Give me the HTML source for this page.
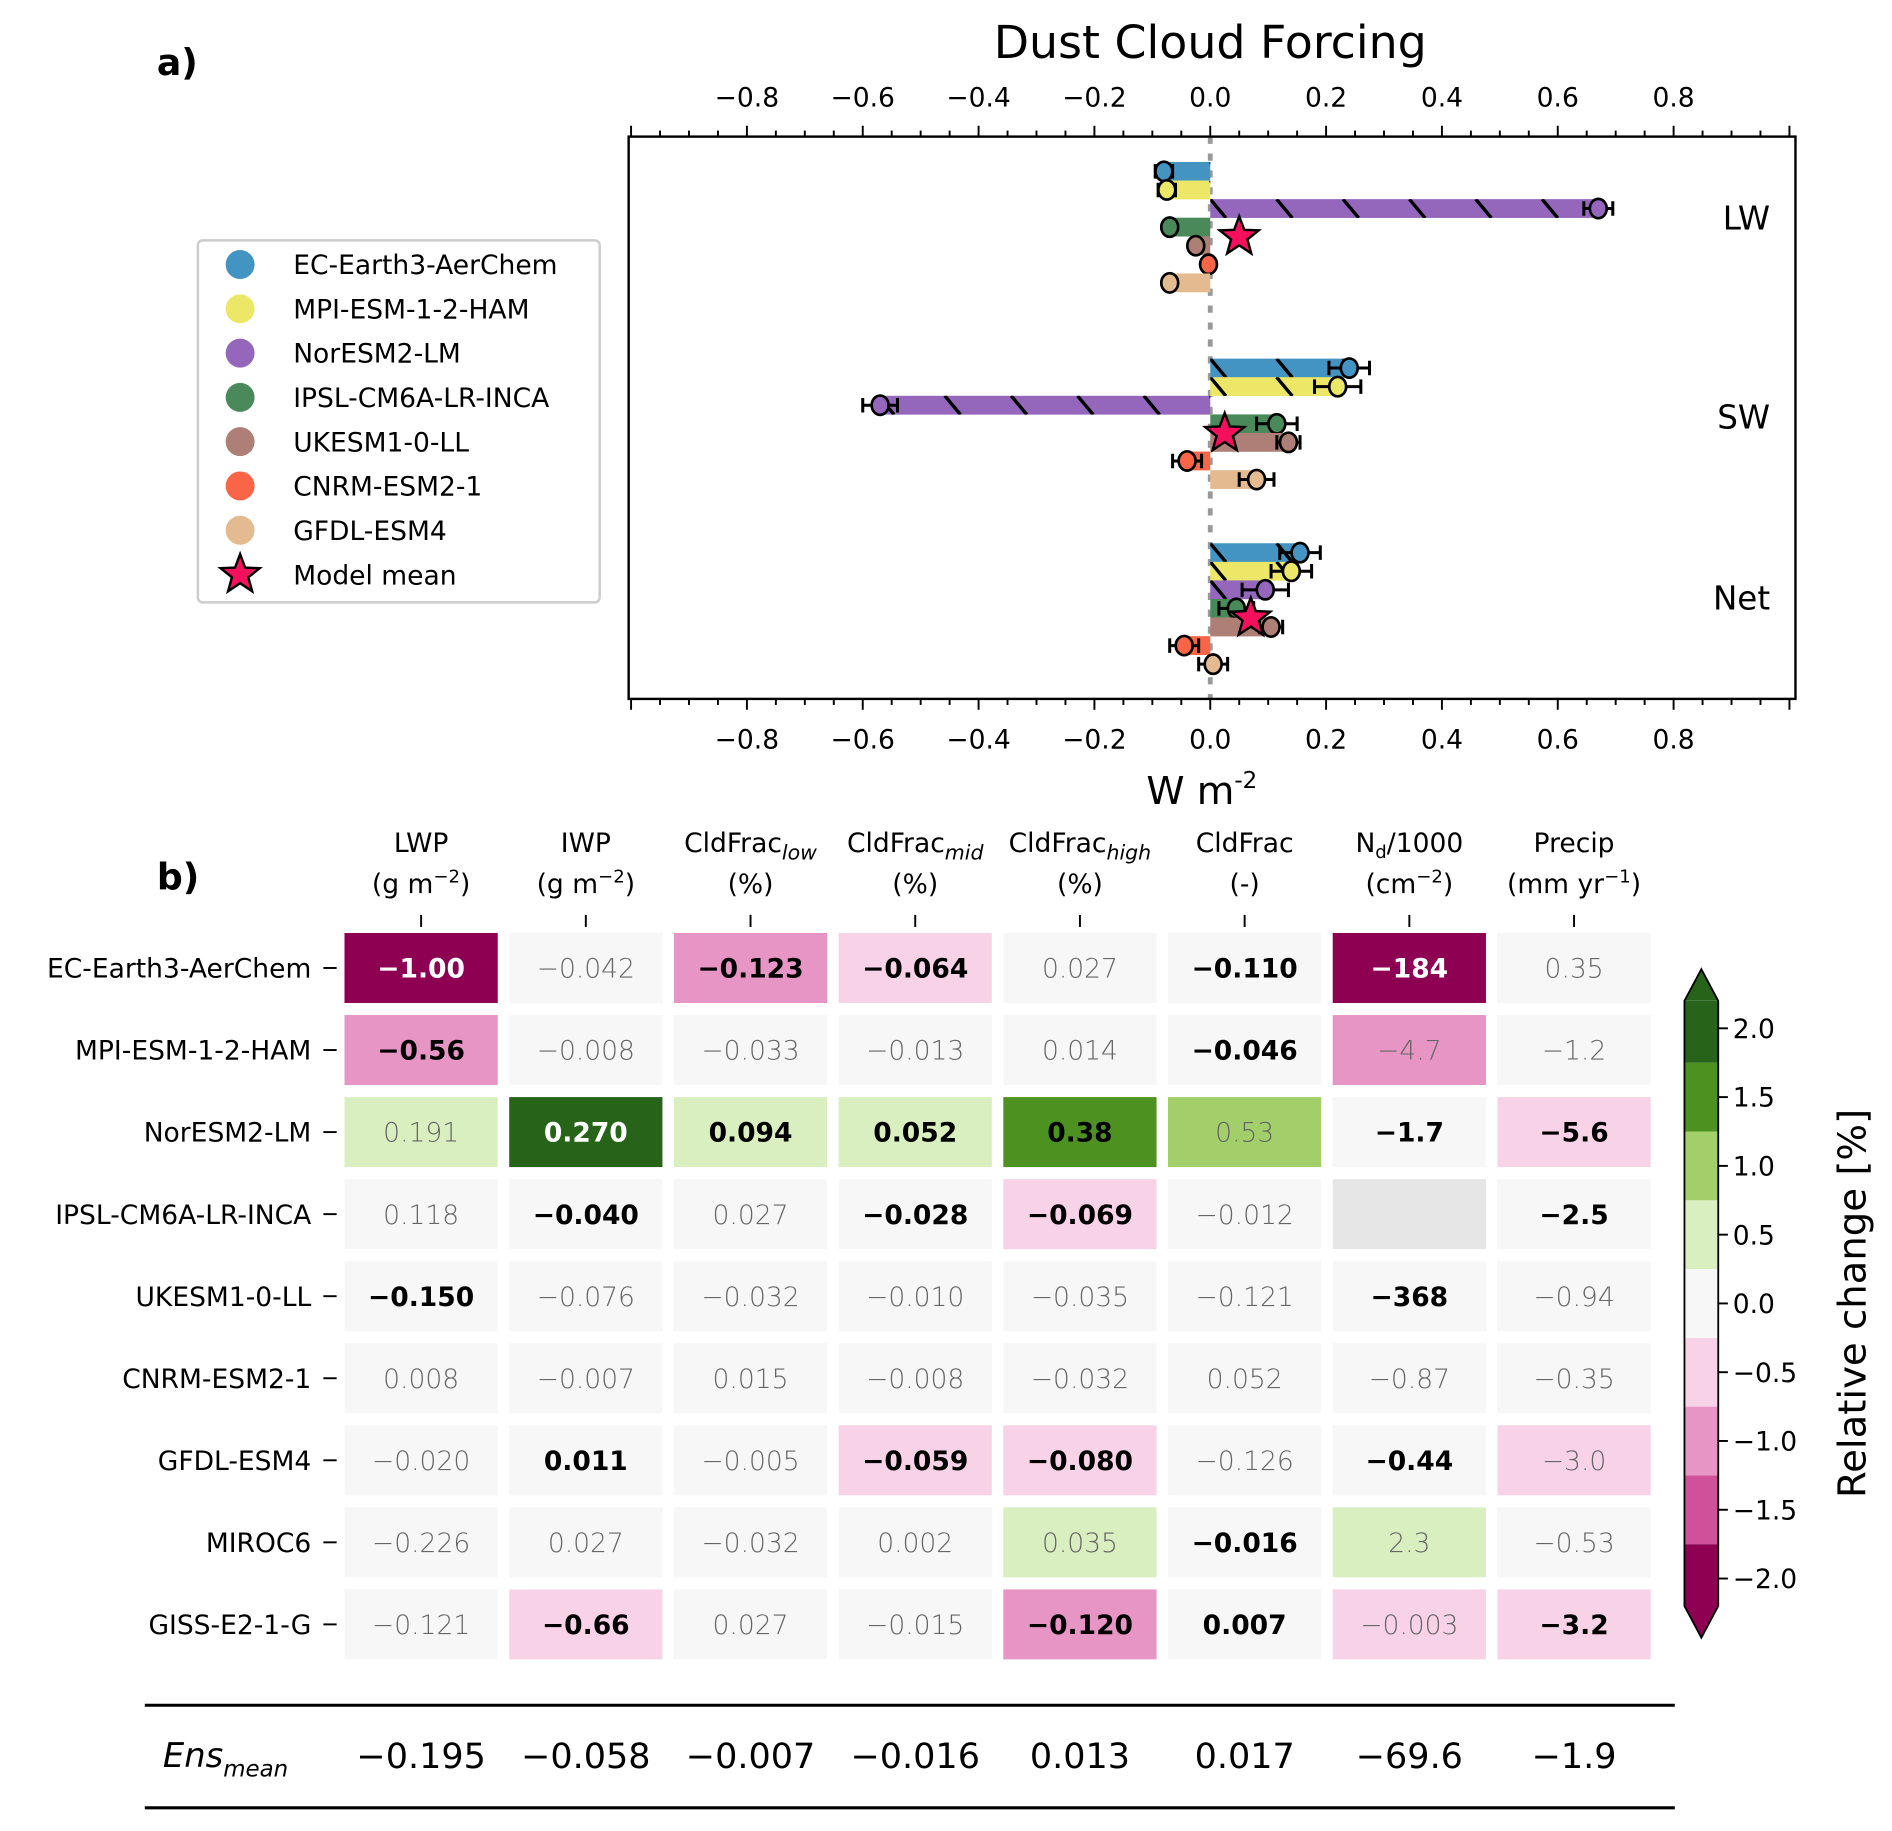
<!DOCTYPE html>
<html><head><meta charset="utf-8">
<style>
html,body{margin:0;padding:0;background:#fff;}
svg{display:block;font-family:"DejaVu Sans","Liberation Sans",sans-serif;}
</style></head>
<body>
<svg id="fig" width="1892" height="1831" viewBox="0 0 1568 1517" xmlns="http://www.w3.org/2000/svg">
<defs id="defs"></defs>
<g id="panelA"></g>
<g id="panelB"></g>
</svg>
<script>
// ---- Panel a data ----
const models = ["EC-Earth3-AerChem","MPI-ESM-1-2-HAM","NorESM2-LM","IPSL-CM6A-LR-INCA","UKESM1-0-LL","CNRM-ESM2-1","GFDL-ESM4"];
const modelColors = ["#4393c3","#ece766","#9467bd","#4a8a5a","#ad7f76","#fb6547","#e4bb90"];
const hatched = [true,true,true,false,false,false,false];
const groups = ["LW","SW","Net"];
const lwValues = [-0.08,-0.075,0.67,-0.07,-0.025,-0.003,-0.07];
const swValues = [0.24,0.22,-0.57,0.115,0.135,-0.04,0.08];
const netValues = [0.155,0.14,0.095,0.045,0.105,-0.045,0.005];
const lwErr = [0.015,0.015,0.025,0.01,0.01,0.005,0.01];
const swErr = [0.035,0.04,0.03,0.035,0.02,0.025,0.03];
const netErr = [0.035,0.035,0.04,0.03,0.02,0.025,0.025];
const meanValues = [0.05,0.025,0.07];
const xTicks = [-0.8,-0.6,-0.4,-0.2,0.0,0.2,0.4,0.6,0.8];

// ---- Panel b data ----
const rowNames = ["EC-Earth3-AerChem","MPI-ESM-1-2-HAM","NorESM2-LM","IPSL-CM6A-LR-INCA","UKESM1-0-LL","CNRM-ESM2-1","GFDL-ESM4","MIROC6","GISS-E2-1-G"];
const colLine1 = ["LWP","IWP","CldFrac|low","CldFrac|mid","CldFrac|high","CldFrac","N_d/1000","Precip"];
const colLine2 = ["(g m^−2)","(g m^−2)","(%)","(%)","(%)","(-)","(cm^−2)","(mm yr^−1)"];
const cellText = [
 ["−1.00","−0.042","−0.123","−0.064","0.027","−0.110","−184","0.35"],
 ["−0.56","−0.008","−0.033","−0.013","0.014","−0.046","−4.7","−1.2"],
 ["0.191","0.270","0.094","0.052","0.38","0.53","−1.7","−5.6"],
 ["0.118","−0.040","0.027","−0.028","−0.069","−0.012","","−2.5"],
 ["−0.150","−0.076","−0.032","−0.010","−0.035","−0.121","−368","−0.94"],
 ["0.008","−0.007","0.015","−0.008","−0.032","0.052","−0.87","−0.35"],
 ["−0.020","0.011","−0.005","−0.059","−0.080","−0.126","−0.44","−3.0"],
 ["−0.226","0.027","−0.032","0.002","0.035","−0.016","2.3","−0.53"],
 ["−0.121","−0.66","0.027","−0.015","−0.120","0.007","−0.003","−3.2"]];
const relChange = [
 [-2.1,0,-1.0,-0.5,0,0,-2.1,0],
 [-1.0,0,0,0,0,0,-1.0,0],
 [0.5,2.1,0.5,0.5,1.5,1.0,0,-0.5],
 [0,0,0,0,-0.5,0,null,0],
 [0,0,0,0,0,0,0,0],
 [0,0,0,0,0,0,0,0],
 [0,0,0,-0.5,-0.5,0,0,-0.5],
 [0,0,0,0,0.5,0,0.5,0],
 [0,-0.5,0,0,-1.0,0,-0.5,-0.5]];
const significant = [
 [1,0,1,1,0,1,1,0],
 [1,0,0,0,0,1,0,0],
 [0,1,1,1,1,0,1,1],
 [0,1,0,1,1,0,0,1],
 [1,0,0,0,0,0,1,0],
 [0,0,0,0,0,0,0,0],
 [0,1,0,1,1,0,1,0],
 [0,0,0,0,0,1,0,0],
 [0,1,0,0,1,1,0,1]];
const ensMean = ["−0.195","−0.058","−0.007","−0.016","0.013","0.017","−69.6","−1.9"];
const cbarTicks = [2.0,1.5,1.0,0.5,0.0,-0.5,-1.0,-1.5,-2.0];
const cbarBounds = [-1.75,-1.25,-0.75,-0.25,0.25,0.75,1.25,1.75];
const cbarColors = ["#8e0152","#d0509a","#e695c4","#f8d3e8","#f7f7f7","#d9efc0","#a2cf6a","#4d9221","#276419"];

const NS="http://www.w3.org/2000/svg";
function mk(parent,tag,attrs,text){const e=document.createElementNS(NS,tag);for(const k in attrs)e.setAttribute(k,attrs[k]);if(text!==undefined)e.textContent=text;parent.appendChild(e);return e;}

// ---------- Panel a ----------
const A=document.getElementById('panelA');
const D=document.getElementById('defs');
const fx0=521,fx1=1488,fy0=113,fy1=579;
const xs=v=>1003+v*480;
const groupCenter=[188,351,504];
const barStep=15.4, barH=15.6;
const yBar=(g,i)=>groupCenter[g]+(i-3)*barStep;

let t=mk(A,'text',{x:1003,y:48,'font-size':38,'text-anchor':'middle'},'Dust Cloud Forcing');

t=mk(A,'text',{x:130,y:62,'font-size':30,'font-weight':'bold'},'a)');


let z=mk(A,'line',{x1:xs(0),x2:xs(0),y1:fy0,y2:fy1,stroke:'#999','stroke-width':4,'stroke-dasharray':'6,8'});


const allVals=[lwValues,swValues,netValues], allErr=[lwErr,swErr,netErr];
function star(cx,cy,r){let p=[];for(let k=0;k<10;k++){const rr=k%2?r*0.42:r;const a=-Math.PI/2+k*Math.PI/5;p.push((cx+rr*Math.cos(a)).toFixed(1)+','+(cy+rr*Math.sin(a)).toFixed(1));}return p.join(' ');}
let clipId=0;
for(let g=0;g<3;g++){
  const gg=mk(A,'g',{});
  
  
  for(let i=0;i<models.length;i++){
    const v=allVals[g][i], e=allErr[g][i], y=yBar(g,i);
    const x0=Math.min(xs(0),xs(v)), w=Math.abs(xs(v)-xs(0));
    const r=mk(gg,'rect',{x:x0,y:y-barH/2,width:w,height:barH,fill:modelColors[i]});
    
    
    if(hatched[i]){
      const cid='clip'+(clipId++);
      const cp=mk(D,'clipPath',{id:cid});
      mk(cp,'rect',{x:x0,y:y-barH/2,width:w,height:barH});
      let d='';
      for(let hx=xs(0)-440;hx<xs(0)+440;hx+=55){d+=`M${hx},${y-barH/2} L${hx+13},${y+barH/2} `;}
      const h=mk(gg,'path',{d:d,stroke:'#000','stroke-width':2.8,'clip-path':`url(#${cid})`});
      
    }
    const eb=mk(gg,'path',{d:`M${xs(v-e)},${y} H${xs(v+e)} M${xs(v-e)},${y-6} V${y+6} M${xs(v+e)},${y-6} V${y+6}`,stroke:'#000','stroke-width':2.5,fill:'none'});
    
    const c=mk(gg,'ellipse',{cx:xs(v),cy:y,rx:7,ry:8,fill:modelColors[i],stroke:'#000','stroke-width':2.2});
    
  }
  const s=mk(gg,'polygon',{points:star(xs(meanValues[g]),groupCenter[g]+8,17),fill:'#f5105e',stroke:'#000','stroke-width':2});
  
  const l=mk(gg,'text',{x:1467,y:groupCenter[g]+2+(g==1?2:g==2?-1:0),'font-size':27,'text-anchor':'end'},groups[g]);
  
}
let fr=mk(A,'rect',{x:fx0,y:fy0,width:fx1-fx0,height:fy1-fy0,fill:'none',stroke:'#000','stroke-width':2});

for(let k=-20;k<=20;k++){
  const v=k*0.05, x=xs(v); if(x<fx0-1||x>fx1+1)continue;
  const major=(k%4===0);
  const len=major?9:5;
  mk(A,'line',{x1:x,x2:x,y1:fy0,y2:fy0-len,stroke:'#000','stroke-width':1.6});
  mk(A,'line',{x1:x,x2:x,y1:fy1,y2:fy1+len,stroke:'#000','stroke-width':1.6});
}
xTicks.forEach(v=>{
  const lbl=(v<0?'−':'')+Math.abs(v).toFixed(1);
  let a=mk(A,'text',{x:xs(v),y:88,'font-size':22,'text-anchor':'middle'},lbl);
  
  a=mk(A,'text',{x:xs(v),y:620,'font-size':22,'text-anchor':'middle'},lbl);
  
});
let xl=mk(A,'text',{x:996,y:666,'font-size':32,'text-anchor':'middle'});

xl.innerHTML='W m<tspan font-size="19" dy="-13">-2</tspan>';

const lg=mk(A,'g',{});

mk(lg,'rect',{x:164,y:199,width:333,height:300,rx:4,fill:'#fff',stroke:'#ccc','stroke-width':2});
models.forEach((m,i)=>{
  const y=219+i*36.7;
  const c=mk(lg,'circle',{cx:199,cy:y,r:12,fill:modelColors[i]});
  
  const tt=mk(lg,'text',{x:243,y:y+8,'font-size':22},m);
  
});
mk(lg,'polygon',{points:star(199,476,17),fill:'#f5105e',stroke:'#000','stroke-width':2});
let mt=mk(lg,'text',{x:243,y:484,'font-size':22},'Model mean');


// ---------- Panel b ----------
const B=document.getElementById('panelB');
const colX=j=>349+j*136.5, rowY=i=>802+i*68;
const cw=127, ch=58;
function colorFor(v){if(v===null)return '#e6e6e6';let k=0;while(k<cbarBounds.length&&v>cbarBounds[k])k++;return cbarColors[k];}
t=mk(B,'text',{x:130,y:737,'font-size':30,'font-weight':'bold'},'b)');


function richText(el,s){
  if(s.includes('|')){const [b,sub]=s.split('|');el.innerHTML=b+'<tspan font-size="17" font-style="italic" dy="6">'+sub+'</tspan>';return;}
  if(s.startsWith('N_d')){el.innerHTML='N<tspan font-size="15" dy="5">d</tspan><tspan dy="-5">/1000</tspan>';return;}
  if(s.includes('^')){const m=s.match(/^(.*)\^([^)]*)(\).*)$/);el.innerHTML=m[1]+'<tspan font-size="15" dy="-9">'+m[2]+'</tspan><tspan dy="9">'+m[3]+'</tspan>';return;}
  el.textContent=s;
}
colLine1.forEach((s,j)=>{
  let a=mk(B,'text',{x:colX(j),y:706,'font-size':22,'text-anchor':'middle'});richText(a,s);
  
  a=mk(B,'text',{x:colX(j),y:740,'font-size':22,'text-anchor':'middle'});richText(a,colLine2[j]);
  
  mk(B,'line',{x1:colX(j),x2:colX(j),y1:758,y2:768,stroke:'#000','stroke-width':1.6});
});
rowNames.forEach((n,i)=>{
  const a=mk(B,'text',{x:258,y:rowY(i)+8,'font-size':22,'text-anchor':'end'},n);
  
  mk(B,'line',{x1:268,x2:279,y1:rowY(i),y2:rowY(i),stroke:'#000','stroke-width':1.6});
  for(let j=0;j<colLine1.length;j++){
    const v=relChange[i][j], col=colorFor(v);
    const r=mk(B,'rect',{x:colX(j)-cw/2,y:rowY(i)-ch/2,width:cw,height:ch,fill:col});
    
    const dark=(v!==null&&Math.abs(v)>1.75);
    const bold=significant[i][j]===1;
    const tx=mk(B,'text',{x:colX(j),y:rowY(i)+8,'font-size':22,'text-anchor':'middle',
      fill:dark?'#fff':(bold?'#000':'#666'),'font-weight':bold?'bold':'300'},cellText[i][j]);
    
  }
});
const cb=mk(B,'g',{});

const cy=v=>1080-v*114;
const cbx0=1396,cbx1=1424;
for(let k=0;k<cbarColors.length;k++){
  const lo=k===0?-2.2:cbarBounds[k-1], hi=k===cbarColors.length-1?2.2:cbarBounds[k];
  const y0=cy(hi), y1=cy(lo);
  const seg=mk(cb,'rect',{x:cbx0,y:y0,width:cbx1-cbx0,height:y1-y0,fill:cbarColors[k]});
  
}
mk(cb,'polygon',{points:`${cbx0},${cy(2.2)} ${(cbx0+cbx1)/2},803 ${cbx1},${cy(2.2)}`,fill:cbarColors[8]});
mk(cb,'polygon',{points:`${cbx0},${cy(-2.2)} ${(cbx0+cbx1)/2},1357 ${cbx1},${cy(-2.2)}`,fill:cbarColors[0]});
mk(cb,'polygon',{points:`${cbx0},${cy(2.2)} ${(cbx0+cbx1)/2},803 ${cbx1},${cy(2.2)} ${cbx1},${cy(-2.2)} ${(cbx0+cbx1)/2},1357 ${cbx0},${cy(-2.2)}`,fill:'none',stroke:'#000','stroke-width':1.5});
cbarTicks.forEach(v=>{
  mk(cb,'line',{x1:cbx1,x2:cbx1+8,y1:cy(v),y2:cy(v),stroke:'#000','stroke-width':1.6});
  const a=mk(cb,'text',{x:cbx1+12,y:cy(v)+8,'font-size':22},(v<0?'−':'')+Math.abs(v).toFixed(1));
  
});
let ct=mk(cb,'text',{x:0,y:0,'font-size':32,'text-anchor':'middle',transform:'translate(1546,1080) rotate(-90)'},'Relative change [%]');


mk(B,'line',{x1:120,x2:1388,y1:1413,y2:1413,stroke:'#000','stroke-width':2.5});
mk(B,'line',{x1:120,x2:1388,y1:1498,y2:1498,stroke:'#000','stroke-width':2.5});
let en=mk(B,'text',{x:135,y:1464,'font-size':28,'font-style':'italic'});
en.innerHTML='Ens<tspan font-size="19" dy="8">mean</tspan>';

ensMean.forEach((s,j)=>{
  const a=mk(B,'text',{x:colX(j),y:1465,'font-size':29,'text-anchor':'middle'},s);
  
});
</script>
</body></html>
